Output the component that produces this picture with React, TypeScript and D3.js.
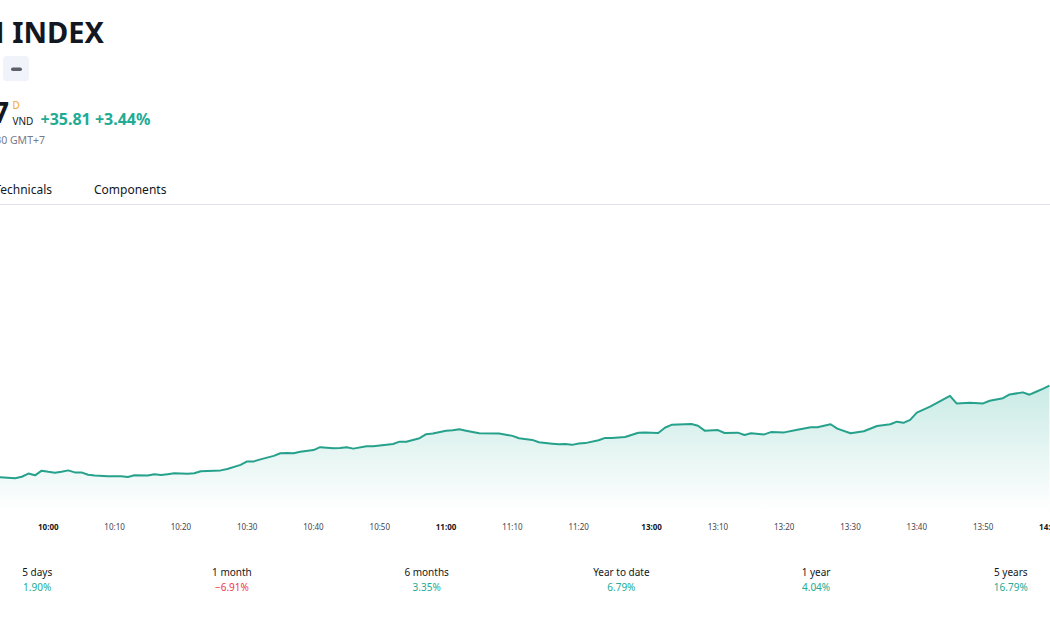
import React from "react";
import * as d3 from "d3";

const times = ["09:52","09:55","09:56","09:57","09:58","09:59","10:00","10:01","10:02","10:03","10:04","10:05","10:06","10:07","10:09","10:11","10:12","10:13","10:15","10:16","10:17","10:18","10:19","10:21","10:22","10:23","10:26","10:27","10:29","10:30","10:31","10:32","10:33","10:34","10:35","10:36","10:37","10:38","10:40","10:41","10:42","10:43","10:44","10:45","10:46","10:48","10:49","10:51","10:52","10:53","10:54","10:56","10:57","10:58","11:00","11:01","11:02","11:03","11:05","11:08","11:10","11:11","11:13","11:14","11:16","11:17","11:18","11:19","11:20","11:21","11:23","11:24","11:25","11:27","11:29","11:30","13:01","13:02","13:03","13:05","13:06","13:07","13:08","13:10","13:11","13:13","13:14","13:15","13:17","13:18","13:20","13:22","13:24","13:25","13:27","13:28","13:30","13:32","13:34","13:36","13:37","13:38","13:39","13:40","13:42","13:45","13:46","13:48","13:50","13:51","13:53","13:54","13:56","13:57","13:58","13:59","14:00"];
const values = [1045.5,1045.1,1045.6,1046.7,1046.1,1047.7,1047.3,1047.0,1047.3,1047.8,1047.1,1047.1,1046.3,1046.0,1045.8,1045.8,1045.5,1046.1,1046.0,1046.5,1046.2,1046.5,1046.8,1046.6,1046.8,1047.5,1047.8,1048.3,1049.7,1050.9,1050.9,1051.6,1052.2,1052.8,1053.7,1053.8,1053.7,1054.2,1054.8,1055.8,1055.6,1055.4,1055.5,1055.8,1055.3,1056.1,1056.1,1056.6,1056.9,1057.7,1057.7,1058.9,1060.3,1060.5,1061.5,1061.6,1062.0,1061.5,1060.6,1060.5,1059.7,1058.9,1058.3,1057.5,1057.0,1056.8,1056.9,1056.6,1057.1,1057.2,1058.2,1059.0,1059.0,1059.3,1060.8,1060.9,1060.7,1062.5,1063.5,1063.7,1063.8,1063.2,1061.5,1061.7,1060.7,1060.8,1060.0,1060.6,1060.2,1061.0,1060.9,1061.8,1062.7,1062.7,1063.7,1062.2,1060.6,1061.3,1063.1,1063.7,1064.6,1064.2,1065.2,1067.7,1069.8,1073.5,1070.9,1071.1,1070.9,1071.8,1072.7,1074.0,1074.7,1073.9,1074.9,1075.9,1077.0];

const tickLabels = ["10:00","10:10","10:20","10:30","10:40","10:50","11:00","11:10","11:20","13:00","13:10","13:20","13:30","13:40","13:50","14:00"];

const perfLabels = ["5 days","1 month","6 months","Year to date","1 year","5 years"];
const perfValues = [1.90,-6.91,3.35,6.79,4.04,16.79];

const titleText = "M INDEX";
const priceDigit = "7";
const currency = "VND";
const changeText = "+35.81 +3.44%";
const timeText = "30 GMT+7";
const tabs = ["Technicals","Components"];

// session-aware minute index (lunch break collapsed)
function toIndex(t: string): number {
  const [h, m] = t.split(":").map(Number);
  const mins = h * 60 + m;
  if (mins <= 11 * 60 + 30) return mins - 9 * 60;
  return 151 + (mins - 13 * 60);
}

const UI = "'Noto Sans', 'Open Sans', sans-serif";
const GREEN = "#22ab94";
const LINE = "#26a18b";
const RED = "#f23645";

export default function App() {
  const W = 1050, H = 630;
  const x = d3.scaleLinear().domain([60, 211]).range([48.3, 1049.4]);
  const y = d3.scaleLinear().domain([1030, 1090]).range([522, 348]);
  const paneBottom = 512;
  const data = times.map((t, i) => ({ i: toIndex(t), v: values[i] }));
  const line = d3.line<{ i: number; v: number }>().x(d => x(d.i)).y(d => y(d.v));
  const area = d3.area<{ i: number; v: number }>().x(d => x(d.i)).y0(paneBottom).y1(d => y(d.v));
  const maxV = d3.max(values) as number;
  const perfX = d3.scaleLinear().domain([0, 5]).range([37.2, 1010.8]);

  return (
    <svg width={W} height={H} style={{ position: "absolute", left: 0, top: 0, background: "#fff" }} fontFamily={UI}>
      <defs>
        <linearGradient id="fillGrad" gradientUnits="userSpaceOnUse" x1="0" x2="0" y1={y(maxV)} y2={paneBottom}>
          <stop offset="0" stopColor={GREEN} stopOpacity={0.24} />
          <stop offset="1" stopColor={GREEN} stopOpacity={0} />
        </linearGradient>
        <clipPath id="clip"><rect x={0} y={205} width={W} height={paneBottom - 205} /></clipPath>
      </defs>
      <rect width={W} height={H} fill="#fff" />

      {/* header */}
      <text x={104} y={43} textAnchor="end" fontSize={29} fontWeight={700} fill="#131722">{titleText}</text>
      <rect x={3} y={56} width={26} height={25} rx={4} fill="#f0f3fa" />
      <rect x={11} y={67.5} width={11} height={3.5} rx={1.75} fill="#5d606b" />

      <text x={9} y={122.5} textAnchor="end" fontSize={28} fontWeight={700} fill="#131722">{priceDigit}</text>
      <text x={12.5} y={109} fontSize={10} fill="#f5a623">D</text>
      <text x={12.5} y={124.5} fontSize={10} fill="#131722">{currency}</text>
      <text x={40.5} y={125} fontSize={16} fontWeight={700} fill={GREEN}>{changeText}</text>
      <text x={45} y={144} textAnchor="end" fontSize={10.5} fill="#787b86">{timeText}</text>

      <text x={52} y={194} textAnchor="end" fontSize={12} fill="#131722">{tabs[0]}</text>
      <text x={94} y={194} fontSize={12} fill="#131722">{tabs[1]}</text>
      <line x1={0} x2={W} y1={204.5} y2={204.5} stroke="#e0e3eb" strokeWidth={1} />

      {/* chart */}
      <g clipPath="url(#clip)">
        <path d={area(data) || ""} fill="url(#fillGrad)" />
        <path d={line(data) || ""} fill="none" stroke={LINE} strokeWidth={2} strokeLinejoin="round" />
      </g>

      {tickLabels.map(t => (
        <text key={t} x={x(toIndex(t))} y={530} textAnchor="middle" fontSize={8} fontWeight={t.endsWith(":00") ? 700 : 400} fill={t.endsWith(":00") ? "#131722" : "#434651"}>{t}</text>
      ))}

      {/* performance */}
      {perfLabels.map((l, i) => (
        <g key={l}>
          <text x={perfX(i)} y={576} textAnchor="middle" fontSize={10} fill="#131722">{l}</text>
          <text x={perfX(i)} y={591} textAnchor="middle" fontSize={10} fill={perfValues[i] < 0 ? RED : GREEN}>
            {(perfValues[i] < 0 ? "\u2212" : "") + Math.abs(perfValues[i]).toFixed(2) + "%"}
          </text>
        </g>
      ))}
    </svg>
  );
}
